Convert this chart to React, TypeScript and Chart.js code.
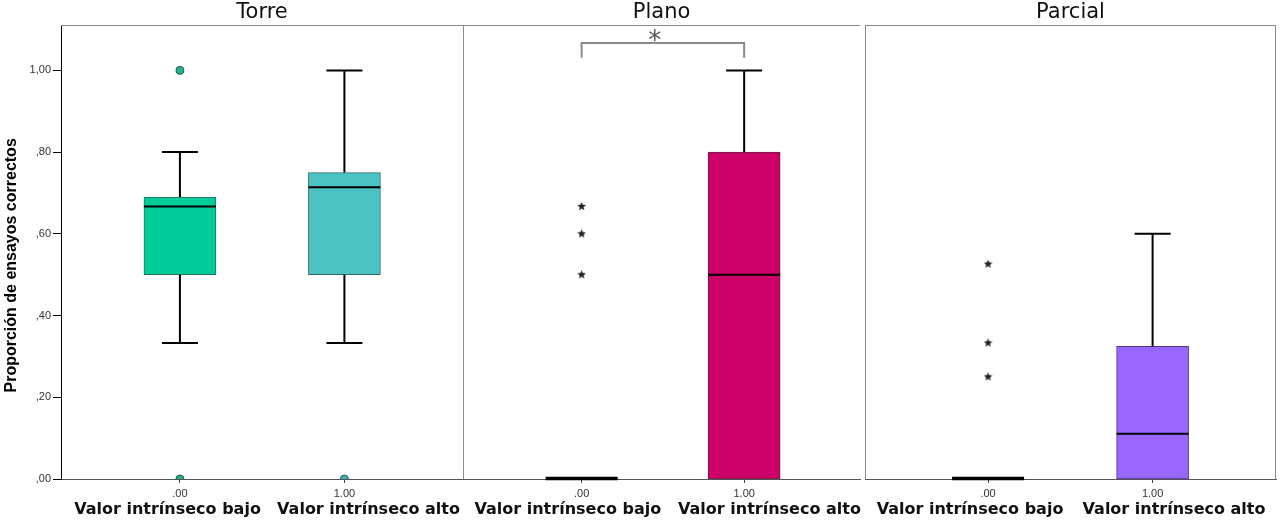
import React, { useEffect, useRef } from "react";
import { Chart, registerables } from "chart.js";

Chart.register(...registerables);

// ---------------- data ----------------
const panels = ["Torre", "Plano", "Parcial"];
const groups = [0, 1];
const groupTicks = [",00", "1,00"];
const groupNames = ["Valor intrínseco bajo", "Valor intrínseco alto"];
const yTickValues = [0, 0.2, 0.4, 0.6, 0.8, 1.0];
const yTickLabels = [",00", ",20", ",40", ",60", ",80", "1,00"];
const yTitle = "Proporción de ensayos correctos";

// indexed [panel][group]
const q1 = [[0.5, 0.5], [0, 0], [0, 0]];
const q3 = [[0.69, 0.75], [0, 0.8], [0, 0.325]];
const medians = [[0.667, 0.714], [0, 0.5], [0, 0.111]];
const whiskerLow = [[0.333, 0.333], [0, 0], [0, 0]];
const whiskerHigh = [[0.8, 1.0], [0, 1.0], [0, 0.6]];
const outlierCircles = [[[1.0, 0.0], [0.0]], [[], []], [[], []]];
const outlierStars = [[[], []], [[0.667, 0.6, 0.5], []], [[0.526, 0.333, 0.25], []]];

// significance bracket (Plano)
const sigPanel = 1;
const sigFrom = 0;
const sigTo = 1;
const sigY = 1.067;
const sigLegY = 1.031;
const sigStarX = 0.45;
const sigStarY = 1.088;
const sigLabel = "*";

// ---------------- styles / layout ----------------
const Y_MAX = 1.111;
const boxFill = [["#00CC99", "#4CC3C3"], ["#CC0066", "#CC0066"], ["#9966FF", "#9966FF"]];
const boxBorder = [["#2f6b5c", "#2f6b6b"], ["#6b1f40", "#6b1f40"], ["#4d3480", "#4d3480"]];
const circleFill = [["#1fb28c", "#3fb0b0"], ["#1fb28c", "#1fb28c"], ["#1fb28c", "#1fb28c"]];
const circleBorder = "#2b5a4e";
const panelLeft = [0, 463, 865];
const panelCanvasWidth = [463, 402, 415];
const panelPadRight = [0, 0, 4];
const panelXMin = [-0.723, -0.73, -0.748];
const panelXMax = [1.721, 1.714, 1.75];
const labelXMin = [-0.53, -0.52, -0.515];
const labelXMax = [1.47, 1.45, 1.5];
const BOX_W = 72;
const CAP_HALF = 18;
const TICK_FONT = "'Liberation Sans', Arial, sans-serif";
const LABEL_FONT = "'DejaVu Sans', Verdana, sans-serif";
const FRAME = "#8a8a8a";
const TITLE_SHIFT = "\u00a0\u00a0\u00a0\u00a0\u00a0\u00a0";

function makeStar(size: number, color: string): HTMLCanvasElement {
  const c = document.createElement("canvas");
  c.width = size;
  c.height = size;
  const ctx = c.getContext("2d")!;
  ctx.fillStyle = color;
  ctx.beginPath();
  const cx = size / 2, cy = size / 2, R = size / 2, r = R * 0.45;
  for (let i = 0; i < 10; i++) {
    const ang = -Math.PI / 2 + (i * Math.PI) / 5;
    const rad = i % 2 === 0 ? R : r;
    const px = cx + rad * Math.cos(ang);
    const py = cy + rad * Math.sin(ang);
    if (i === 0) ctx.moveTo(px, py);
    else ctx.lineTo(px, py);
  }
  ctx.closePath();
  ctx.fill();
  return c;
}

function Panel({ p }: { p: number }) {
  const ref = useRef<HTMLCanvasElement>(null);

  useEffect(() => {
    const canvas = ref.current!;
    const star = makeStar(9, "#222");

    const datasets: any[] = [
      {
        type: "bar",
        data: groups.map((g) => ({ x: g, y: [q1[p][g], q3[p][g]] })),
        backgroundColor: boxFill[p],
        borderColor: boxBorder[p],
        borderWidth: 1,
        borderSkipped: false,
        barThickness: BOX_W,
        grouped: false,
        xAxisID: "x",
        yAxisID: "y",
        order: 2,
      },
    ];
    groups.forEach((g) => {
      if (outlierCircles[p][g].length) {
        datasets.push({
          type: "scatter",
          data: outlierCircles[p][g].map((v) => ({ x: g, y: v })),
          pointStyle: "circle",
          pointRadius: 4,
          backgroundColor: circleFill[p][g],
          borderColor: circleBorder,
          borderWidth: 1,
          clip: 0,
          xAxisID: "x",
          yAxisID: "y",
          order: 1,
        });
      }
      if (outlierStars[p][g].length) {
        datasets.push({
          type: "scatter",
          data: outlierStars[p][g].map((v) => ({ x: g, y: v })),
          pointStyle: star,
          pointRadius: 4,
          clip: 0,
          xAxisID: "x",
          yAxisID: "y",
          order: 1,
        });
      }
    });

    const boxParts = {
      id: "boxParts",
      afterDatasetsDraw(chart: any) {
        const { ctx } = chart;
        const x = chart.scales.x;
        const y = chart.scales.y;
        ctx.save();
        ctx.strokeStyle = "#000";
        ctx.lineCap = "butt";
        groups.forEach((g) => {
          const cx = x.getPixelForValue(g);
          ctx.lineWidth = 2;
          if (whiskerHigh[p][g] > q3[p][g]) {
            const y0 = y.getPixelForValue(q3[p][g]);
            const y1 = y.getPixelForValue(whiskerHigh[p][g]);
            ctx.beginPath();
            ctx.moveTo(cx, y0);
            ctx.lineTo(cx, y1);
            ctx.moveTo(cx - CAP_HALF, y1);
            ctx.lineTo(cx + CAP_HALF, y1);
            ctx.stroke();
          }
          if (whiskerLow[p][g] < q1[p][g]) {
            const y0 = y.getPixelForValue(q1[p][g]);
            const y1 = y.getPixelForValue(whiskerLow[p][g]);
            ctx.beginPath();
            ctx.moveTo(cx, y0);
            ctx.lineTo(cx, y1);
            ctx.moveTo(cx - CAP_HALF, y1);
            ctx.lineTo(cx + CAP_HALF, y1);
            ctx.stroke();
          }
          const collapsed = q1[p][g] === q3[p][g];
          ctx.lineWidth = collapsed ? 3.5 : 2;
          const ym = y.getPixelForValue(medians[p][g]) - (collapsed ? 0.5 : 0);
          ctx.beginPath();
          ctx.moveTo(cx - BOX_W / 2, ym);
          ctx.lineTo(cx + BOX_W / 2, ym);
          ctx.stroke();
        });
        if (p === sigPanel) {
          const xa = x.getPixelForValue(sigFrom);
          const xb = x.getPixelForValue(sigTo);
          const yb = y.getPixelForValue(sigY);
          const yl = y.getPixelForValue(sigLegY);
          ctx.strokeStyle = FRAME;
          ctx.lineWidth = 2;
          ctx.beginPath();
          ctx.moveTo(xa, yl);
          ctx.lineTo(xa, yb);
          ctx.lineTo(xb, yb);
          ctx.lineTo(xb, yl);
          ctx.stroke();
          const size = 26;
          ctx.fillStyle = "#555";
          ctx.font = `${size}px ${LABEL_FONT}`;
          ctx.textAlign = "center";
          ctx.textBaseline = "alphabetic";
          ctx.fillText(sigLabel, x.getPixelForValue(sigStarX), y.getPixelForValue(sigStarY) + 0.57 * size);
        }
        ctx.restore();
      },
    };

    const frame = {
      id: "frame",
      afterDraw(chart: any) {
        const { ctx, chartArea } = chart;
        const { left, right, top, bottom } = chartArea;
        ctx.save();
        ctx.strokeStyle = FRAME;
        ctx.lineWidth = 1;
        ctx.beginPath();
        const ty = Math.floor(top) + 0.5;
        ctx.moveTo(left, ty);
        ctx.lineTo(right, ty);
        if (p > 0) {
          ctx.moveTo(Math.floor(left) + 0.5, top);
          ctx.lineTo(Math.floor(left) + 0.5, bottom);
        }
        if (p === panels.length - 1) {
          ctx.moveTo(Math.floor(right) - 0.5, top);
          ctx.lineTo(Math.floor(right) - 0.5, bottom);
        }
        ctx.stroke();
        ctx.restore();
      },
    };

    const setGroupTicks = (s: any) => {
      s.ticks = groups.map((v) => ({ value: v }));
    };

    const yScale: any = {
      type: "linear",
      min: 0,
      max: Y_MAX,
      display: p === 0,
      afterBuildTicks: (s: any) => {
        s.ticks = yTickValues.map((v) => ({ value: v }));
      },
      grid: { drawOnChartArea: false, drawTicks: true, tickLength: 8, color: "#000" },
      border: { display: true, color: "#000", width: 1 },
      ticks: {
        callback: (_v: any, i: number) => yTickLabels[i],
        font: { family: TICK_FONT, size: 11 },
        color: "#333",
        padding: 2,
      },
      title: {
        display: true,
        text: yTitle + TITLE_SHIFT,
        font: { family: TICK_FONT, size: 16, weight: "bold" },
        color: "#000",
        padding: { top: 2, bottom: 0 },
      },
    };
    if (p === 0) {
      yScale.afterFit = (s: any) => {
        s.width = 61;
      };
    }

    const chart = new Chart(canvas, {
      type: "bar",
      data: { datasets },
      plugins: [boxParts, frame],
      options: {
        responsive: false,
        maintainAspectRatio: false,
        animation: false,
        events: [],
        layout: { autoPadding: false, padding: { left: 0, right: panelPadRight[p], top: 0, bottom: 0 } },
        plugins: {
          legend: { display: false },
          tooltip: { enabled: false },
          title: {
            display: true,
            fullSize: false,
            text: panels[p],
            color: "#111",
            font: { family: LABEL_FONT, size: 21, weight: "normal", lineHeight: 1.05 },
            padding: { top: 2, bottom: 1 },
          },
        },
        scales: {
          x: {
            type: "linear",
            position: "bottom",
            min: panelXMin[p],
            max: panelXMax[p],
            offset: false,
            weight: 0,
            afterBuildTicks: setGroupTicks,
            afterFit: (s: any) => {
              s.height = 18;
            },
            grid: { drawOnChartArea: false, drawTicks: true, tickLength: 4, color: "#444", offset: false },
            border: { display: true, color: "#555", width: 1 },
            ticks: {
              callback: (_v: any, i: number) => groupTicks[i],
              font: { family: TICK_FONT, size: 11 },
              color: "#333",
              padding: 4,
              maxRotation: 0,
              autoSkip: false,
            },
          },
          x2: {
            type: "linear",
            axis: "x",
            position: "bottom",
            min: labelXMin[p],
            max: labelXMax[p],
            offset: false,
            weight: 1,
            afterBuildTicks: setGroupTicks,
            afterFit: (s: any) => {
              s.height = 25;
            },
            grid: { display: false, drawTicks: false, drawOnChartArea: false },
            border: { display: false },
            ticks: {
              callback: (_v: any, i: number) => groupNames[i],
              font: { family: LABEL_FONT, size: 16, weight: "bold" },
              color: "#111",
              padding: 3,
              maxRotation: 0,
              autoSkip: false,
            },
          },
          y: yScale,
        },
      } as any,
    });

    return () => {
      chart.destroy();
    };
  }, [p]);

  return (
    <canvas
      ref={ref}
      width={panelCanvasWidth[p]}
      height={522}
      style={{
        position: "absolute",
        left: panelLeft[p],
        top: 0,
        width: panelCanvasWidth[p],
        height: 522,
      }}
    />
  );
}

export default function App() {
  return (
    <div
      style={{
        position: "absolute",
        left: 0,
        top: 0,
        width: 1280,
        height: 522,
        background: "#fff",
        overflow: "hidden",
      }}
    >
      {panels.map((_, p) => (
        <Panel key={p} p={p} />
      ))}
    </div>
  );
}
